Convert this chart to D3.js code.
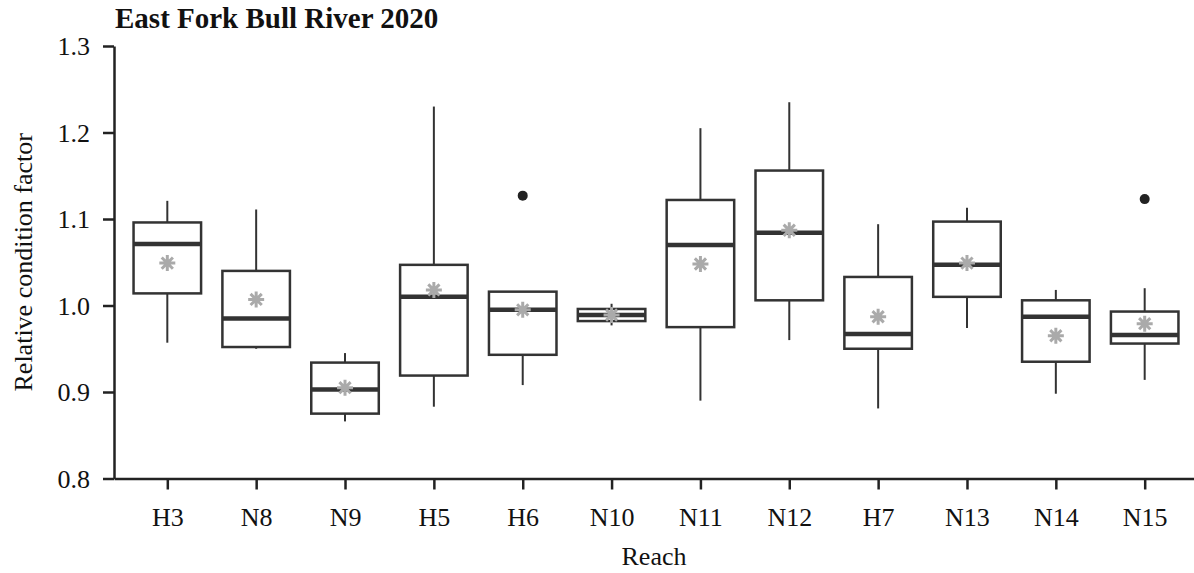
<!DOCTYPE html>
<html>
<head>
<meta charset="utf-8">
<script src="https://cdn.jsdelivr.net/npm/d3@7"></script>
<style>
  body { margin: 0; background: #fff; }
  text { font-family: "Liberation Serif", "Times New Roman", serif; fill: #111; }
</style>
</head>
<body>
<div id="chart"></div>
<script>
// reaches in plotting order
const reaches = ['H3', 'N8', 'N9', 'H5', 'H6', 'N10', 'N11', 'N12', 'H7', 'N13', 'N14', 'N15'];
const whiskerLow  = [0.957, 0.950, 0.866, 0.883, 0.908, 0.977, 0.890, 0.960, 0.881, 0.974, 0.898, 0.914];
const q1          = [1.014, 0.952, 0.875, 0.919, 0.943, 0.982, 0.975, 1.006, 0.950, 1.010, 0.935, 0.956];
const medians     = [1.071, 0.985, 0.903, 1.010, 0.995, 0.989, 1.070, 1.084, 0.967, 1.047, 0.987, 0.966];
const q3          = [1.096, 1.040, 0.934, 1.047, 1.016, 0.996, 1.122, 1.156, 1.033, 1.097, 1.006, 0.993];
const whiskerHigh = [1.121, 1.111, 0.945, 1.230, 1.016, 1.002, 1.205, 1.235, 1.094, 1.113, 1.018, 1.020];
const means       = [1.049, 1.007, 0.905, 1.018, 0.995, 0.989, 1.048, 1.087, 0.987, 1.049, 0.965, 0.979];
const outliers    = [{ reach: 'H6', value: 1.127 }, { reach: 'N15', value: 1.123 }];
const yTicks = [0.8, 0.9, 1.0, 1.1, 1.2, 1.3];

const width = 1194, height = 573;
const margin = { top: 46, left: 114 };
const plotBottom = 478.5;

const svg = d3.select('#chart').append('svg')
  .attr('width', width)
  .attr('height', height);

const x = d3.scalePoint()
  .domain(reaches)
  .range([margin.left, 1198])
  .padding(0.6);

const y = d3.scaleLinear()
  .domain([0.8, 1.3])
  .range([plotBottom, margin.top]);

const boxW = x.step() * 0.76;
const ink = '#333';

// axes
const yAxis = svg.append('g')
  .attr('transform', `translate(${margin.left},0)`)
  .call(d3.axisLeft(y).tickValues(yTicks).tickFormat(d3.format('.1f')).tickSize(11).tickSizeOuter(0).tickPadding(13));
yAxis.selectAll('text').style('font-size', '26px').attr('dy', '0.34em');

const xAxis = svg.append('g')
  .attr('transform', `translate(0,${plotBottom})`)
  .call(d3.axisBottom(x).tickSize(11).tickSizeOuter(0));
xAxis.selectAll('text').style('font-size', '26px').attr('y', 47.5).attr('dy', 0);

svg.selectAll('.domain, .tick line').attr('stroke', '#222').attr('stroke-width', 2.5);

// boxes
const rows = reaches.map((r, i) => ({
  reach: r, lo: whiskerLow[i], q1: q1[i], med: medians[i], q3: q3[i], hi: whiskerHigh[i], mean: means[i]
}));

const g = svg.append('g');
const box = g.selectAll('g.box').data(rows).join('g').attr('class', 'box');

box.append('line')
  .attr('x1', d => x(d.reach)).attr('x2', d => x(d.reach))
  .attr('y1', d => y(d.hi)).attr('y2', d => y(d.q3))
  .attr('stroke', ink).attr('stroke-width', 2);
box.append('line')
  .attr('x1', d => x(d.reach)).attr('x2', d => x(d.reach))
  .attr('y1', d => y(d.q1)).attr('y2', d => y(d.lo))
  .attr('stroke', ink).attr('stroke-width', 2);

box.append('rect')
  .attr('x', d => x(d.reach) - boxW / 2)
  .attr('width', boxW)
  .attr('y', d => y(d.q3))
  .attr('height', d => y(d.q1) - y(d.q3))
  .attr('fill', '#fff')
  .attr('stroke', ink).attr('stroke-width', 2.5);

box.append('line')
  .attr('x1', d => x(d.reach) - boxW / 2).attr('x2', d => x(d.reach) + boxW / 2)
  .attr('y1', d => y(d.med)).attr('y2', d => y(d.med))
  .attr('stroke', ink).attr('stroke-width', 4.5);

// mean asterisks (8 spokes)
const r = 8;
const star = `M0,${-r}V${r}M${-r},0H${r}` +
  `M${-r * 0.7},${-r * 0.7}L${r * 0.7},${r * 0.7}M${-r * 0.7},${r * 0.7}L${r * 0.7},${-r * 0.7}`;
box.append('path')
  .attr('transform', d => `translate(${x(d.reach)},${y(d.mean)})`)
  .attr('d', star)
  .attr('stroke', '#aaa').attr('stroke-width', 3).attr('fill', 'none');

// outliers
g.selectAll('circle.out').data(outliers).join('circle')
  .attr('class', 'out')
  .attr('cx', d => x(d.reach))
  .attr('cy', d => y(d.value))
  .attr('r', 5)
  .attr('fill', '#222');

// labels
svg.append('text')
  .attr('x', 115).attr('y', 28)
  .style('font-size', '29px').style('font-weight', 'bold')
  .text('East Fork Bull River 2020');

svg.append('text')
  .attr('x', 654).attr('y', 565)
  .attr('text-anchor', 'middle')
  .style('font-size', '26px')
  .text('Reach');

svg.append('text')
  .attr('transform', `translate(32,${(margin.top + plotBottom) / 2}) rotate(-90)`)
  .attr('text-anchor', 'middle')
  .style('font-size', '26px')
  .text('Relative condition factor');
</script>
</body>
</html>
